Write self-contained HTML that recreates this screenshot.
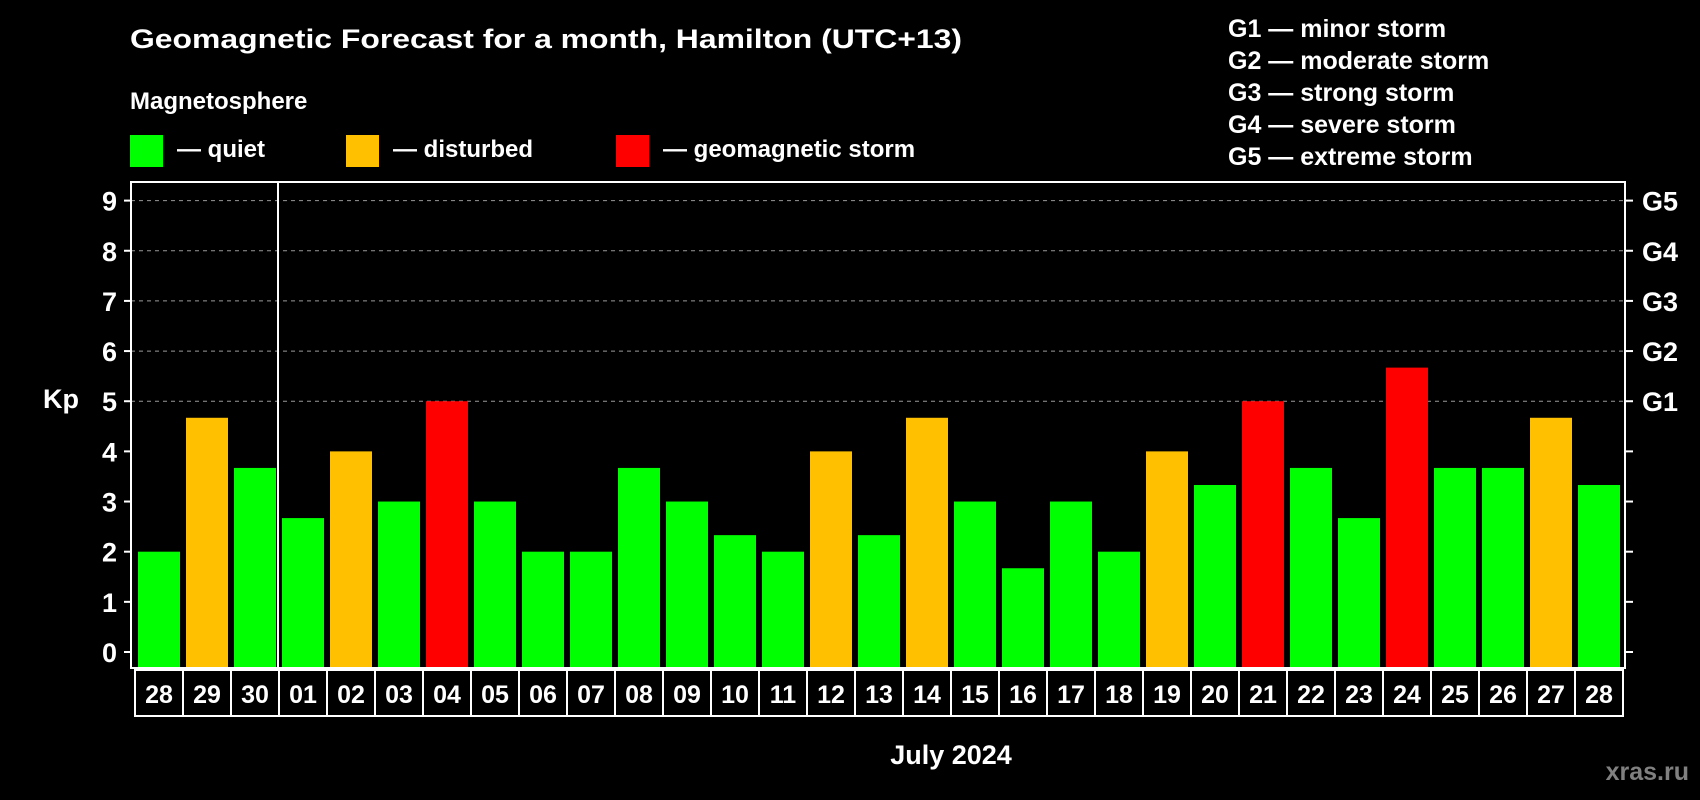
<!DOCTYPE html>
<html><head><meta charset="utf-8"><style>
body{margin:0;background:#000;}
svg{display:block;font-family:"Liberation Sans",Arial,sans-serif;font-weight:bold;}
</style></head><body>
<svg id="chart" width="1700" height="800" viewBox="0 0 1700 800" xmlns="http://www.w3.org/2000/svg">
<rect x="0" y="0" width="1700" height="800" fill="#000"/>
<text x="130" y="48" fill="#fff" font-size="27" textLength="832" lengthAdjust="spacingAndGlyphs">Geomagnetic Forecast for a month, Hamilton (UTC+13)</text>
<text x="130" y="109" fill="#fff" font-size="24">Magnetosphere</text>
<g><rect x="130" y="135" width="33" height="32" fill="#00ff00"/><text x="177" y="157" fill="#fff" font-size="24">— quiet</text></g>
<g><rect x="346" y="135" width="33" height="32" fill="#ffc000"/><text x="393" y="157" fill="#fff" font-size="24">— disturbed</text></g>
<g><rect x="616" y="135" width="33" height="32" fill="#ff0000"/><text x="663" y="157" fill="#fff" font-size="24">— geomagnetic storm</text></g>
<g fill="#fff" font-size="25">
<text x="1228" y="37">G1 — minor storm</text>
<text x="1228" y="69">G2 — moderate storm</text>
<text x="1228" y="101">G3 — strong storm</text>
<text x="1228" y="133">G4 — severe storm</text>
<text x="1228" y="165">G5 — extreme storm</text>
</g>
<text x="43" y="408" fill="#fff" font-size="27">Kp</text>
<text x="951" y="764" fill="#fff" font-size="27" text-anchor="middle">July 2024</text>
<text x="1689" y="780" fill="#808080" font-size="25" text-anchor="end">xras.ru</text>
<g id="grid"></g>
<g id="bars"></g>
<g id="axes"></g>
<g id="xlabels"></g>
</svg>
<script>
const days = ["28","29","30","01","02","03","04","05","06","07","08","09","10","11","12","13","14","15","16","17","18","19","20","21","22","23","24","25","26","27","28"];
const kpValues = [2,4.67,3.67,2.67,4,3,5,3,2,2,3.67,3,2.33,2,4,2.33,4.67,3,1.67,3,2,4,3.33,5,3.67,2.67,5.67,3.67,3.67,4.67,3.33];
const yTicks = [0,1,2,3,4,5,6,7,8,9];
const gLabels = ["G1","G2","G3","G4","G5"];
const gLevels = [5,6,7,8,9];
const monthStartIndex = 3;

const NS="http://www.w3.org/2000/svg";
const plotL=131, plotR=1625, plotT=182, plotB=668;
const y0=652, unit=(652-200.6)/9;
const yScale=v=>y0-v*unit;
const pitch=48, firstX=136;
const xScale=i=>firstX+i*pitch;
function mk(tag,attrs,parent){const e=document.createElementNS(NS,tag);for(const k in attrs)e.setAttribute(k,attrs[k]);parent.appendChild(e);return e;}
const grid=document.getElementById('grid'),bars=document.getElementById('bars'),axes=document.getElementById('axes'),xl=document.getElementById('xlabels');
gLevels.forEach(v=>{const l=mk('line',{x1:plotL,x2:plotR,y1:yScale(v),y2:yScale(v),stroke:'#999','stroke-width':1,'stroke-dasharray':'4,4'},grid);

});
kpValues.forEach((v,i)=>{const c=v>=5?'#ff0000':(v>=4?'#ffc000':'#00ff00');
const r=mk('rect',{x:xScale(i)+2,y:yScale(v),width:42,height:plotB-1-yScale(v),fill:c},bars);

});
const fr=mk('rect',{x:plotL,y:plotT,width:plotR-plotL,height:plotB-plotT,fill:'none',stroke:'#fff','stroke-width':2},axes);


const sx=xScale(monthStartIndex)-2;
const sep=mk('line',{x1:sx,x2:sx,y1:plotT,y2:plotB,stroke:'#fff','stroke-width':2},axes);


yTicks.forEach(v=>{const y=yScale(v);
mk('line',{x1:plotL-7,x2:plotL,y1:y,y2:y,stroke:'#fff','stroke-width':2},axes);
mk('line',{x1:plotR,x2:plotR+8,y1:y,y2:y,stroke:'#fff','stroke-width':2},axes);
const t=mk('text',{x:117,y:y+10,fill:'#fff','font-size':27,'text-anchor':'end'},axes);t.textContent=v;

});
gLevels.forEach((v,i)=>{const t=mk('text',{x:1642,y:yScale(v)+10,fill:'#fff','font-size':27},axes);t.textContent=gLabels[i];

});
days.forEach((d,i)=>{const x=xScale(i)-1;
const b=mk('rect',{x:x,y:670,width:pitch,height:46,fill:'none',stroke:'#fff','stroke-width':2},xl);


const t=mk('text',{x:x+pitch/2,y:703,fill:'#fff','font-size':25,'text-anchor':'middle'},xl);t.textContent=d;

});
</script>
</body></html>
